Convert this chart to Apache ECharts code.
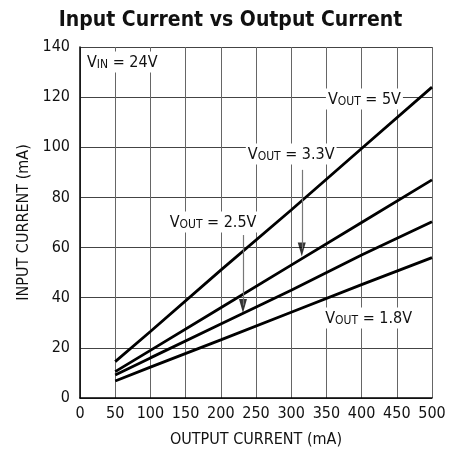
<!DOCTYPE html>
<html><head><meta charset="utf-8">
<script src="https://cdn.jsdelivr.net/npm/echarts@6/dist/echarts.min.js"></script>
<style>html,body{margin:0;padding:0;background:#fff}#c{width:461px;height:458px}</style>
</head><body><div id="c"></div>
<script>
const outputCurrent = [50, 100, 200, 300, 400, 500];
const vout5 = [14.5, 26.5, 51, 75, 99.5, 124];
const vout33 = [10.5, 19, 36, 53, 70, 87];
const vout25 = [9.2, 16, 29.5, 43, 57, 70.3];
const vout18 = [6.8, 12.3, 23.2, 34.2, 45.2, 56];
const xTicks = [0, 50, 100, 150, 200, 250, 300, 350, 400, 450, 500];
const yTicks = [0, 20, 40, 60, 80, 100, 120, 140];

const FONT = '"Liberation Sans Narrow", "DejaVu Sans Condensed", "Roboto", sans-serif';
const rich = {
  m: {fontSize: 16, lineHeight: 18, verticalAlign: 'bottom', color: '#111', fontFamily: FONT},
  s: {fontSize: 12, lineHeight: 8, verticalAlign: 'bottom', color: '#111', fontFamily: FONT}
};
function pts(vals) { return outputCurrent.map((x, i) => [x, vals[i]]); }
function lineSeries(name, vals) {
  return {name, type: 'line', data: pts(vals), showSymbol: false, symbol: 'none',
    lineStyle: {color: '#000', width: 2.8}, silent: true, z: 3};
}
const annotations = [
  {coord: [60, 134], text: '{m|V}{s|IN}{m| = 24V}'},
  {coord: [404, 119.3], text: '{m|V}{s|OUT}{m| = 5V}'},
  {coord: [300, 97.3], text: '{m|V}{s|OUT}{m| = 3.3V}'},
  {coord: [189, 70.2], text: '{m|V}{s|OUT}{m| = 2.5V}'},
  {coord: [410, 31.9], text: '{m|V}{s|OUT}{m| = 1.8V}'}
];
const arrows = [
  {x: 315, from: 91, to: 56.4},
  {x: 231.5, from: 65, to: 33.9}
];
const chart = echarts.init(document.getElementById('c'));
chart.setOption({
  animation: false,
  backgroundColor: '#fff',
  title: {text: 'Input Current vs Output Current', left: 'center', top: 5,
    textStyle: {fontFamily: FONT, fontWeight: 'bold', fontSize: 21, color: '#111'}},
  grid: {left: 80, right: 29, top: 47, bottom: 60},
  xAxis: {type: 'value', min: 0, max: 500, interval: 50,
    name: 'OUTPUT CURRENT (mA)', nameLocation: 'middle', nameGap: 34,
    nameTextStyle: {fontFamily: FONT, fontSize: 16, color: '#111'},
    axisLine: {lineStyle: {color: '#000', width: 1.5}}, axisTick: {show: false},
    axisLabel: {fontFamily: FONT, fontSize: 16, color: '#111', margin: 8,
      formatter: v => xTicks.includes(v) ? String(v) : ''},
    splitLine: {lineStyle: {color: '#666', width: 1}}},
  yAxis: {type: 'value', min: 0, max: 140, interval: 20,
    name: 'INPUT CURRENT (mA)', nameLocation: 'middle', nameGap: 39, nameRotate: 90,
    nameTextStyle: {fontFamily: FONT, fontSize: 16, color: '#111'},
    axisLine: {show: true, lineStyle: {color: '#000', width: 1.5}}, axisTick: {show: false},
    axisLabel: {fontFamily: FONT, fontSize: 16, color: '#111', margin: 10,
      formatter: v => yTicks.includes(v) ? String(v) : ''},
    splitLine: {lineStyle: {color: '#444', width: 1}}},
  series: [
    lineSeries('5V', vout5),
    lineSeries('3.3V', vout33),
    lineSeries('2.5V', vout25),
    lineSeries('1.8V', vout18),
    {type: 'line', data: [], silent: true, z: 2,
      markLine: {silent: true, symbol: ['none', 'none'],
        lineStyle: {color: '#777', width: 1.2, type: 'solid'}, label: {show: false},
        data: arrows.map(a => [{coord: [a.x, a.from]}, {coord: [a.x, a.to + 3]}])}},
    {type: 'scatter', silent: true, z: 4, symbol: 'triangle', symbolRotate: 180,
      symbolSize: [8, 14], symbolOffset: [0, -7], itemStyle: {color: '#000'},
      data: arrows.map(a => [a.x, a.to])},
    {type: 'scatter', data: [], silent: true, z: 5,
      markPoint: {silent: true, symbol: 'rect', symbolSize: 0,
        label: {show: true, position: 'inside', backgroundColor: '#fff', padding: [1, 2, 2, 2], rich},
        data: annotations.map(a => ({coord: a.coord, label: {formatter: a.text}}))}}
  ]
});
</script></body></html>
